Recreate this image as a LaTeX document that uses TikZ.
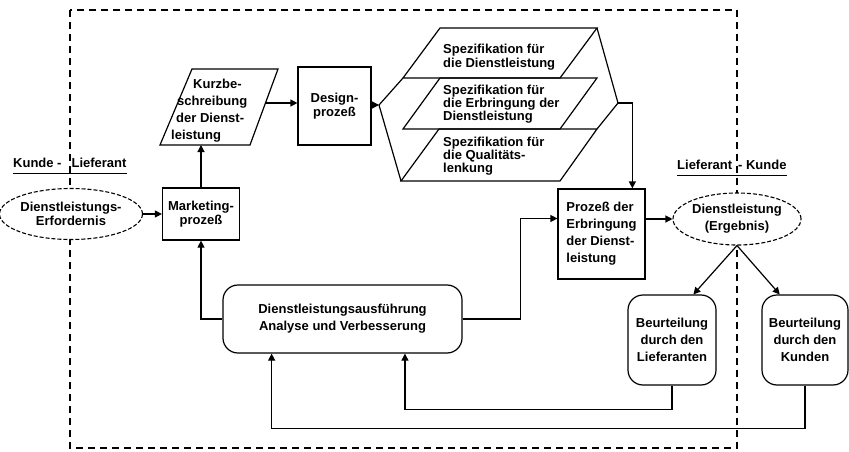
\documentclass[tikz,border=0pt]{standalone}
\usepackage{fontspec}
\setmainfont{Liberation Sans}
\usetikzlibrary{arrows.meta,shapes.geometric,calc}
\newcommand{\fs}[1]{\fontsize{13}{#1}\selectfont\bfseries}
\begin{document}
\begin{tikzpicture}[x=1pt,y=-1pt,
  every node/.style={font=\fs{15}, inner sep=0pt},
  ln/.style={line width=1.2pt},
  box/.style={draw, line width=1.2pt, fill=white},
  rbox/.style={draw, line width=1.2pt, fill=white, rounded corners=15pt},
  dell/.style={ellipse, draw, line width=1.1pt, dash pattern=on 4pt off 2pt, fill=white},
  arr/.style={line width=1.2pt, -{Triangle[length=7pt,width=7pt]}},
  bound/.style={line width=1.2pt, dash pattern=on 7pt off 5pt}]
\useasboundingbox (0,0) rectangle (849,452);
% organisation boundary
\draw[bound] (70,10) rectangle (737,448);

% labels
\node[anchor=west] (kl) at (13,163) {Kunde -\hspace{10pt}Lieferant};
\draw[ln] ([yshift=-6pt]kl.base west) -- ([yshift=-6pt]kl.base east);
\node[anchor=west] (lk) at (677,165) {Lieferant\hspace{6pt}- Kunde};
\draw[ln] ([yshift=-6pt]lk.base west) -- ([yshift=-6pt]lk.base east);

% nodes
\node[dell, minimum width=127pt, minimum height=51pt, align=center, font=\fs{14}] (erf) at (71,214) {Dienstleistungs-\\Erfordernis};
\node[box, minimum width=77pt, minimum height=52pt, align=center, font=\fs{13.5}] (mkt) at (201,214) {Marketing-\\prozeß};

% Kurzbeschreibung (parallelogram)
\draw[ln] (192,69) -- (278,69) -- (250,145) -- (160,145) -- cycle;
\node[anchor=west, align=left, font=\fs{17}] (kurz) at (171,111) {\hspace*{22pt}Kurzbe-\\\hspace*{6pt}schreibung\\\hspace*{5pt}der Dienst-\\leistung};
\coordinate (kurzB) at (201,145);
\coordinate (kurzR) at (266,103);

\node[box, minimum width=73pt, minimum height=78pt, align=center, font=\fs{13.5}] (des) at (334.5,106) {Design-\\prozeß};

% Spezifikationen
\draw[ln] (440,28) -- (597,28) -- (560,78) -- (403,78) -- cycle;
\draw[ln] (440,78) -- (597,78) -- (560,129) -- (403,129) -- cycle;
\draw[ln] (439,129) -- (597,129) -- (560,181) -- (401,181) -- cycle;
\coordinate (L) at (379,105);
\coordinate (R) at (618,103);
\draw[ln] (403,78) -- (L) -- (401,181);
\draw[ln] (597,28) -- (R) -- (597,129);
\node[anchor=west, align=left, font=\fs{13.5}] (s1) at (443,57) {Spezifikation für\\die Dienstleistung};
\node[anchor=west, align=left, font=\fs{13}] (s2) at (443,104.5) {Spezifikation für\\die Erbringung der\\Dienstleistung};
\node[anchor=west, align=left, font=\fs{13}] (s3) at (443,156) {Spezifikation für\\die Qualitäts-\\lenkung};

\node[box, minimum width=87pt, minimum height=90pt, align=left, font=\fs{17}] (pr) at (601.5,234) {Prozeß der\\Erbringung\\der Dienst-\\leistung};

\node[dell, minimum width=128pt, minimum height=52pt, align=center, font=\fs{17}] (dl) at (737,219) {Dienstleistung\\(Ergebnis)};

\node[rbox, minimum width=239pt, minimum height=68pt, align=center, font=\fs{17}] (an) at (342.5,319) {Dienstleistungsausführung\\Analyse und Verbesserung};

\node[rbox, minimum width=88pt, minimum height=90pt, align=center, font=\fs{17}] (bl) at (672,340) {Beurteilung\\durch den\\Lieferanten};
\node[rbox, minimum width=86pt, minimum height=90pt, align=center, font=\fs{17}] (bk) at (805,340) {Beurteilung\\durch den\\Kunden};

% connectors
\draw[arr] (erf.east) -- (mkt.west);
\draw[arr] (mkt.north) -- (kurzB);
\draw[arr] (kurzR) -- (kurzR -| des.west);
\draw[arr] (des.east |- L) -- (L);
\draw[arr] (R) -| ($(pr.north west)!0.85!(pr.north east)$);
\draw[arr] (an.east) -- ++(58,0) |- ($(pr.north west)!0.33!(pr.south west)$);
\draw[arr] (pr.east |- dl.west) -- (dl.west);
\draw[arr] (an.west) -| (mkt.south);
\draw[arr] (dl.south) -- ($(bl.north west)!0.74!(bl.north east)$);
\draw[arr] (dl.south) -- ($(bk.north west)!0.21!(bk.north east)$);
\draw[arr] (bl.south) -- ++(0,24) -| ($(an.south west)!0.76!(an.south east)$);
\draw[arr] (bk.south) -- ++(0,43) -| ($(an.south west)!0.205!(an.south east)$);
\end{tikzpicture}
\end{document}
